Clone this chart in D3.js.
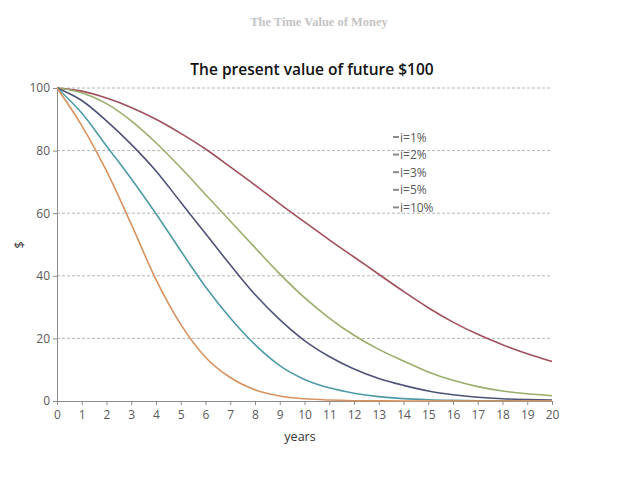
<!DOCTYPE html>
<html>
<head>
<meta charset="utf-8">
<script src="https://cdn.jsdelivr.net/npm/d3@7"></script>
<style>
  body { margin: 0; background: #fff; }
  svg { display: block; }
  .axis path, .axis line { stroke: #8c8c8c; }
  .axis text { fill: #595959; font-family: "Open Sans", sans-serif; font-size: 12px; }
</style>
</head>
<body>
<svg width="640" height="480"></svg>
<script>
// data
var years = d3.range(0, 21);
var seriesNames = ["i=1%", "i=2%", "i=3%", "i=5%", "i=10%"];
var pv1  = [100, 99, 96.8, 93.8, 90, 85.5, 80.5, 74.8, 69, 63, 57.2, 51.5, 46, 40.5, 35, 29.8, 25.2, 21.3, 18, 15.1, 12.6];
var pv2  = [100, 98.5, 95, 89.5, 82.5, 74.5, 66, 57.5, 49, 40.6, 33, 26.5, 21, 16.5, 12.8, 9.3, 6.6, 4.6, 3.2, 2.3, 1.7];
var pv3  = [100, 96, 89.5, 82, 73.5, 63.5, 53.5, 43.5, 34, 26, 19.3, 14.2, 10.2, 7.2, 5, 3.2, 2, 1.2, 0.7, 0.45, 0.3];
var pv5  = [100, 92, 81.5, 71, 59.8, 48, 36.5, 26.5, 18, 11.3, 6.9, 4.2, 2.5, 1.4, 0.75, 0.4, 0.2, 0.1, 0.05, 0.02, 0];
var pv10 = [100, 88, 73.5, 56.5, 38.8, 24.5, 14, 7.5, 3.6, 1.6, 0.7, 0.3, 0.1, 0.04, 0, 0, 0, 0, 0, 0, 0];
var yTicks = [0, 20, 40, 60, 80, 100];
var colors = ["#a0505c", "#9aad6b", "#4f5277", "#4e9ba7", "#d8925f"];

var series = [pv1, pv2, pv3, pv5, pv10];

var svg = d3.select("svg"),
    margin = {top: 88, right: 88, bottom: 79, left: 57},
    width = 640 - margin.left - margin.right,
    height = 480 - margin.top - margin.bottom;

var g = svg.append("g").attr("transform", "translate(" + margin.left + "," + margin.top + ")");

var x = d3.scaleLinear().domain([0, 20]).range([0, width]);
var y = d3.scaleLinear().domain([0, 100]).range([height, 0]);

// page heading
svg.append("text")
    .attr("x", 319).attr("y", 26)
    .attr("text-anchor", "middle")
    .attr("font-family", "'Liberation Serif', 'DejaVu Serif', serif")
    .attr("font-weight", "bold")
    .attr("font-size", 12.5)
    .attr("fill", "#c4c4c4")
    .text("The Time Value of Money");

// chart title
svg.append("text")
    .attr("x", 312).attr("y", 75)
    .attr("text-anchor", "middle")
    .attr("font-family", "'Open Sans', sans-serif")
    .attr("font-weight", 600)
    .attr("font-size", 15.5)
    .attr("fill", "#111")
    .text("The present value of future $100");

// gridlines
g.selectAll(".grid")
    .data(yTicks.filter(function(d) { return d > 0; }))
    .enter().append("line")
    .attr("class", "grid")
    .attr("x1", 0).attr("x2", width)
    .attr("y1", function(d) { return y(d); })
    .attr("y2", function(d) { return y(d); })
    .attr("stroke", "#b4b4b4")
    .attr("stroke-dasharray", "3,2");

g.append("g")
    .attr("class", "axis axis--x")
    .attr("transform", "translate(0," + height + ")")
    .call(d3.axisBottom(x).ticks(20).tickSize(4).tickSizeOuter(0).tickPadding(5));

g.append("g")
    .attr("class", "axis axis--y")
    .call(d3.axisLeft(y).tickValues(yTicks).tickSize(4).tickSizeOuter(0).tickPadding(3));

// axis titles
svg.append("text")
    .attr("x", 300).attr("y", 441)
    .attr("text-anchor", "middle")
    .attr("font-family", "'Open Sans', sans-serif")
    .attr("font-size", 12.5)
    .attr("fill", "#333")
    .text("years");

svg.append("text")
    .attr("transform", "translate(24,245) rotate(-90)")
    .attr("text-anchor", "middle")
    .attr("font-family", "'Open Sans', sans-serif")
    .attr("font-size", 12.5)
    .attr("fill", "#333")
    .text("$");

var line = d3.line()
    .x(function(d, i) { return x(years[i]); })
    .y(function(d) { return y(d); })
    .curve(d3.curveMonotoneX);

series.forEach(function(s, k) {
  g.append("path")
      .datum(s)
      .attr("fill", "none")
      .attr("stroke", colors[k])
      .attr("stroke-width", 1.6)
      .attr("d", line);
});

// legend
var legend = svg.append("g").attr("transform", "translate(393,137)");
seriesNames.forEach(function(name, k) {
  var row = legend.append("g").attr("transform", "translate(0," + (k * 17.6) + ")");
  row.append("line")
      .attr("x1", 0).attr("x2", 6)
      .attr("y1", 0).attr("y2", 0)
      .attr("stroke", "#8a8a8a")
      .attr("stroke-width", 2);
  row.append("text")
      .attr("x", 7).attr("y", 4.5)
      .attr("font-family", "'Open Sans', sans-serif")
      .attr("font-size", 12)
      .attr("fill", "#595959")
      .text(name);
});
</script>
</body>
</html>
